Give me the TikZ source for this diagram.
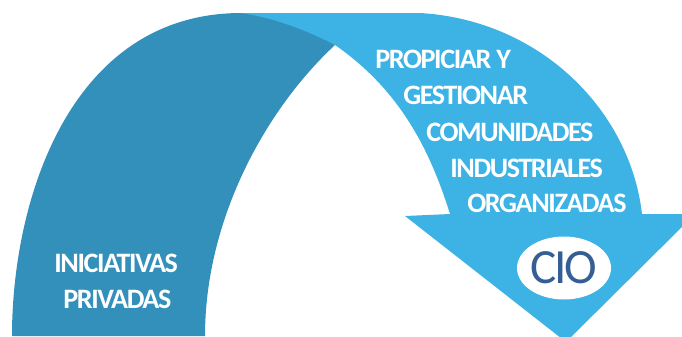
\documentclass[tikz,border=0pt]{standalone}
\usepackage{fontspec}
\setmainfont{Carlito}
\newfontfamily\tightfont[LetterSpace=-5]{Carlito}
\usetikzlibrary{shapes.geometric}
\definecolor{archdark}{RGB}{50,144,186}
\definecolor{arrowlight}{RGB}{61,178,228}
\definecolor{ciotext}{RGB}{53,94,148}

\begin{document}
\begin{tikzpicture}[x=0.02cm, y=-0.02cm,
    lbl/.style={text=white, inner sep=0pt, anchor=base west, font=\tightfont\bfseries\fontsize{16}{19}\selectfont}]

    \useasboundingbox (0,0) rectangle (682,336);
    \clip (0,0) rectangle (682,336);

    % Define shapes
    \fill[arrowlight] (240,13) -- (420,13) .. controls (540,20) and (630,110) .. (642,214)
        -- (695,214) -- (566,342) -- (405,216) -- (450,214)
        .. controls (430,150) and (400,90) .. (335,45) -- cycle;
    \fill[archdark] (12,336) .. controls (12,200) and (70,14) .. (240,13)
        .. controls (275,18) and (305,30) .. (335,45)
        .. controls (265,110) and (205,220) .. (205,336) -- cycle;

    % Define nodes
    \node[lbl] (ini) at (54,272) {INICIATIVAS};
    \node[lbl] (priv) at (63,308) {PRIVADAS};

    \node[lbl] (prop) at (375,68) {PROPICIAR Y};
    \node[lbl] (gest) at (403,104) {GESTIONAR};
    \node[lbl] (comu) at (426,141) {COMUNIDADES};
    \node[lbl] (indu) at (450,177) {INDUSTRIALES};
    \node[lbl] (orga) at (467,212) {ORGANIZADAS};

    \node (cio) [draw=none, fill=white, ellipse, minimum width=1.88cm, minimum height=1.26cm, inner sep=0pt,
        text=ciotext, font=\tightfont\fontsize{28}{32}\selectfont] at (564,268) {CIO};

\end{tikzpicture}
\end{document}
